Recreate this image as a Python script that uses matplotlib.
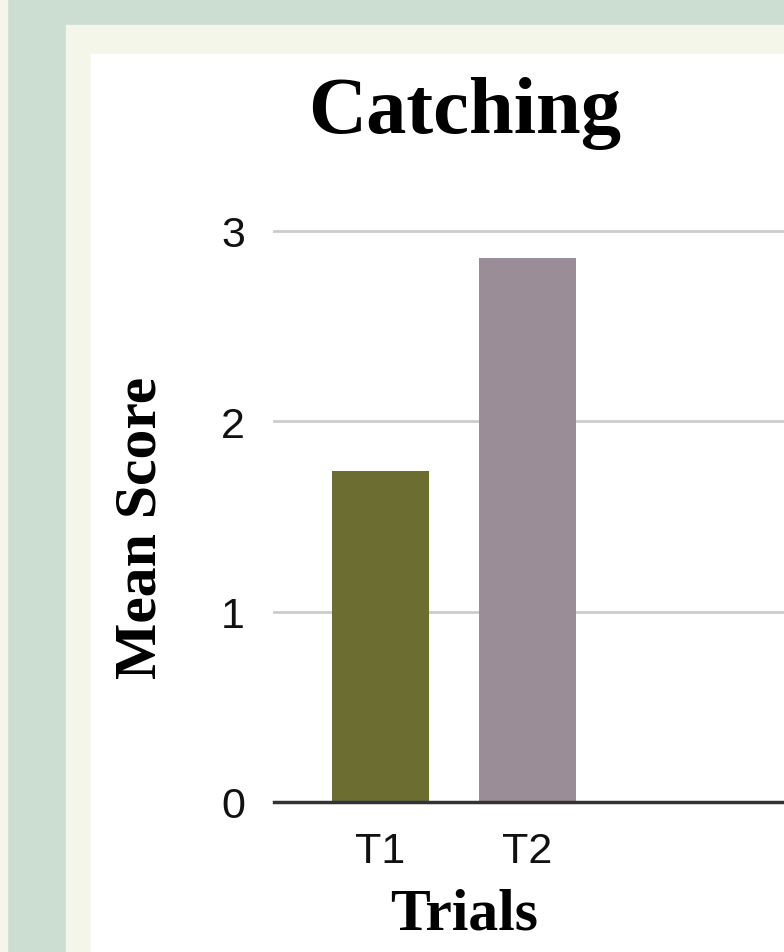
import matplotlib
matplotlib.use("Agg")
import matplotlib.pyplot as plt
from matplotlib.patches import Rectangle

# chart data
trials = ["T1", "T2"]
mean_scores = [1.74, 2.86]
bar_colors = ["#6b6e30", "#9b8d98"]
y_ticks = [0, 1, 2, 3]

W, H = 784, 953
fig = plt.figure(figsize=(W / 100, H / 100), dpi=100, facecolor="#ccddd2")

def px_rect(x0, y0, x1, y1, color):
    # rectangle given in pixel coords from top-left
    fig.patches.append(Rectangle((x0 / W, 1 - y1 / H), (x1 - x0) / W, (y1 - y0) / H,
                                 transform=fig.transFigure, color=color, zorder=-10))

px_rect(0, 0, 7, H, "#f5f6ea")
px_rect(66, 26, W, H, "#f5f6ea")
px_rect(91, 55, W, H, "#ffffff")

ax = fig.add_axes([274 / W, 1 - 803 / H, 1 - 274 / W, (803 - 232) / H])
ax.set_zorder(5)
ax.set_facecolor("none")
ax.bar(range(len(trials)), mean_scores, width=0.66, color=bar_colors, zorder=2)
ax.set_xlim(-0.724, 2.745)
ax.set_ylim(0, 3)
ax.set_yticks(y_ticks)
ax.set_xticks(range(len(trials)))
ax.set_xticklabels(trials)
ax.grid(axis="y", color="#cccccc", linewidth=2, zorder=1)
for gl in ax.get_ygridlines():
    gl.set_clip_on(False)
for s in ["top", "right", "left"]:
    ax.spines[s].set_visible(False)
ax.spines["bottom"].set_color("#333333")
ax.spines["bottom"].set_linewidth(2.5)
ax.spines["bottom"].set_zorder(3)

tick_font = ["Liberation Sans", "DejaVu Sans"]
ax.tick_params(axis="both", length=0, labelsize=31, colors="#111111")
ax.tick_params(axis="y", pad=21)
ax.tick_params(axis="x", pad=21)
for lbl in ax.get_xticklabels() + ax.get_yticklabels():
    lbl.set_family(tick_font)

serif = ["Liberation Serif", "DejaVu Serif"]
fig.text(465 / W, 1 - 133 / H, "Catching", ha="center", va="baseline",
         fontsize=58, fontweight="bold", family=serif)
fig.text(142 / W, 1 - 528 / H, "Mean Score", ha="center", va="center", rotation=90,
         fontsize=43, fontweight="bold", family=serif)
fig.text(464 / W, 1 - 930 / H, "Trials", ha="center", va="baseline",
         fontsize=43, fontweight="bold", family=serif)

fig.savefig("out.png", dpi=100, facecolor=fig.get_facecolor())
